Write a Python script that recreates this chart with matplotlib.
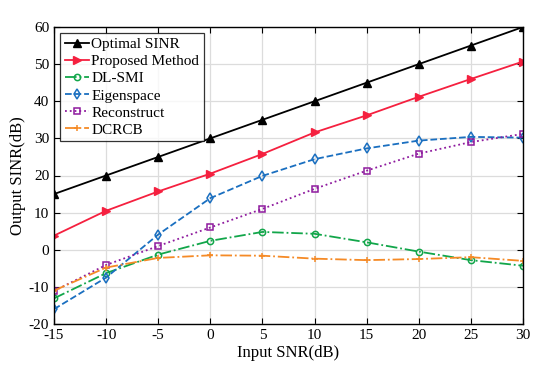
import numpy as np
import matplotlib
matplotlib.use("Agg")
import matplotlib.pyplot as plt

plt.rcParams["font.family"] = ["Liberation Serif", "DejaVu Serif"]
plt.rcParams["axes.unicode_minus"] = False

snr_in = [-15, -10, -5, 0, 5, 10, 15, 20, 25, 30]

optimal = [15, 20, 25, 30, 35, 40, 45, 50, 55, 60]
proposed = [3.8, 10.5, 15.7, 20.5, 25.8, 31.6, 36.2, 41.2, 46.0, 50.7]
dl_smi = [-13.1, -6.3, -1.3, 2.4, 4.8, 4.3, 2.0, -0.5, -2.8, -4.3]
eigenspace = [-16.0, -7.5, 4.1, 13.9, 19.9, 24.4, 27.3, 29.4, 30.4, 30.2]
reconstruct = [-11.1, -4.1, 1.0, 6.0, 11.0, 16.4, 21.3, 25.9, 29.0, 31.2]
dcrcb = [-11.0, -4.8, -2.2, -1.5, -1.6, -2.4, -2.8, -2.5, -2.0, -3.0]

fig = plt.figure(figsize=(5.4, 3.75), dpi=100)
ax = fig.add_axes([0.1, 0.136, 0.8685, 0.792])

ax.plot(snr_in, optimal, "-", color="black", marker="^", ms=5.5, lw=1.3,
        label="Optimal SINR")
ax.plot(snr_in, proposed, "-", color="#f5203f", marker=">", ms=5.5, lw=1.3,
        label="Proposed Method")
ax.plot(snr_in, dl_smi, "-.", color="#12a64a", marker="o", ms=4.5, lw=1.3,
        mfc="none", mew=1.1, label="DL-SMI")
ax.plot(snr_in, eigenspace, "--", color="#1a6fc0", marker="d", ms=5, lw=1.3,
        mfc="none", mew=1.1, label="Eigenspace")
ax.plot(snr_in, reconstruct, ":", color="#8e1a9e", marker="s", ms=4, lw=1.3,
        mfc="none", mew=1.1, label="Reconstruct")
ax.plot(snr_in, dcrcb, "-.", color="#f58a26", marker="+", ms=5, lw=1.3,
        mew=1.1, label="DCRCB")

ax.set_xlim(-15, 30)
ax.set_ylim(-20, 60)
ax.set_xticks(snr_in)
ax.set_yticks(np.arange(-20, 61, 10))
ax.grid(True, color="#dcdcdc", lw=0.9)
ax.set_axisbelow(True)
ax.tick_params(direction="in", labelsize=11, length=4, top=True, right=True)
for s in ax.spines.values():
    s.set_linewidth(1.0)

ax.set_xlabel("Input SNR(dB)", fontsize=12, labelpad=2)
ax.set_ylabel("Output SINR(dB)", fontsize=12, labelpad=2)

leg = ax.legend(loc="upper left", fontsize=11, frameon=True, fancybox=False,
                borderpad=0.3, labelspacing=0.22, handlelength=1.6,
                handletextpad=0.15, borderaxespad=0.4)
leg.get_frame().set_edgecolor("black")
leg.get_frame().set_linewidth(0.9)

fig.savefig("out.png", dpi=100)
